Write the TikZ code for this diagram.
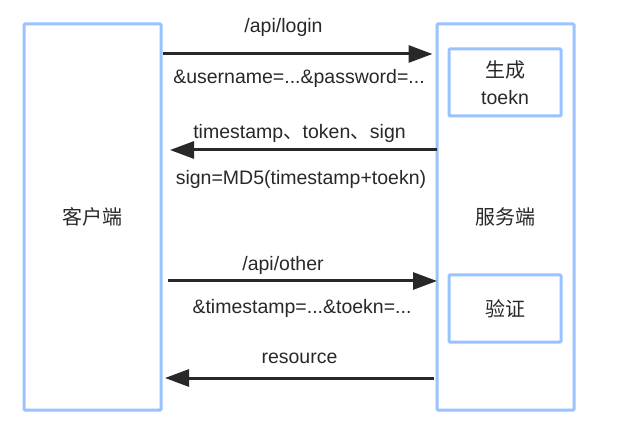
\documentclass[tikz,border=0pt]{standalone}
\usepackage{fontspec}
\setmainfont{Liberation Sans}
\newfontfamily\cjk{Noto Sans CJK SC}
\usetikzlibrary{arrows.meta}
\definecolor{bluebd}{RGB}{153,194,255}
\definecolor{ink}{RGB}{40,40,40}
\begin{document}
\begin{tikzpicture}[x=1pt,y=-1pt,
  box/.style={draw=bluebd, line width=3pt, rounded corners=1pt, inner sep=0pt, outer sep=0pt, rectangle},
  arr/.style={draw=ink, line width=3pt, -{Triangle[length=24pt,width=17pt]}},
  lbl/.style={font=\fontsize{19.5}{27}\selectfont, text=ink, inner sep=0pt, align=center},
  clbl/.style={font=\cjk\fontsize{20}{27}\selectfont, text=ink, inner sep=0pt, align=center}]
\useasboundingbox (0,0) rectangle (618,435);
\node[box, minimum width=137pt, minimum height=386pt] (client) at (92.5,217) {};
\node[box, minimum width=137pt, minimum height=386pt] (server) at (505.5,217) {};
\node[box, minimum width=112pt, minimum height=67pt] (gen) at (505,82.5) {};
\node[box, minimum width=112pt, minimum height=67pt] (ver) at (505,308.5) {};
\node[clbl] (clientlbl) at (92,217) {客户端};
\node[clbl] (serverlbl) at (505,217) {服务端};
\node[clbl] (genlbl1) at (505,70) {生成};
\node[lbl] (genlbl2) at (505,98) {toekn};
\node[clbl] (verlbl) at (505,309) {验证};
\coordinate (a1) at (300,54);
\coordinate (a2) at (300,150);
\coordinate (a3) at (300,281);
\coordinate (a4) at (300,378);
\draw[arr, shorten <=2pt, shorten >=4.5pt] (client.east |- a1) -- (server.west |- a1);
\draw[arr, shorten >=9pt] (server.west |- a2) -- (client.east |- a2);
\draw[arr, shorten <=7pt] (client.east |- a3) -- (server.west |- a3);
\draw[arr, shorten <=3.5pt, shorten >=4pt] (server.west |- a4) -- (client.east |- a4);
\node[lbl] (t1) at (283.5,27) {/api/login};
\node[lbl] (t2) at (299,78) {\&username=...\&password=...};
\node[lbl] (t3) at (299.5,133) {timestamp{\cjk 、}token{\cjk 、}sign};
\node[lbl] (t4) at (301,179) {sign=MD5(timestamp+toekn)};
\node[lbl] (t5) at (283,265) {/api/other};
\node[lbl] (t6) at (302,308) {\&timestamp=...\&toekn=...};
\node[lbl] (t7) at (299.5,358) {resource};
\end{tikzpicture}
\end{document}
